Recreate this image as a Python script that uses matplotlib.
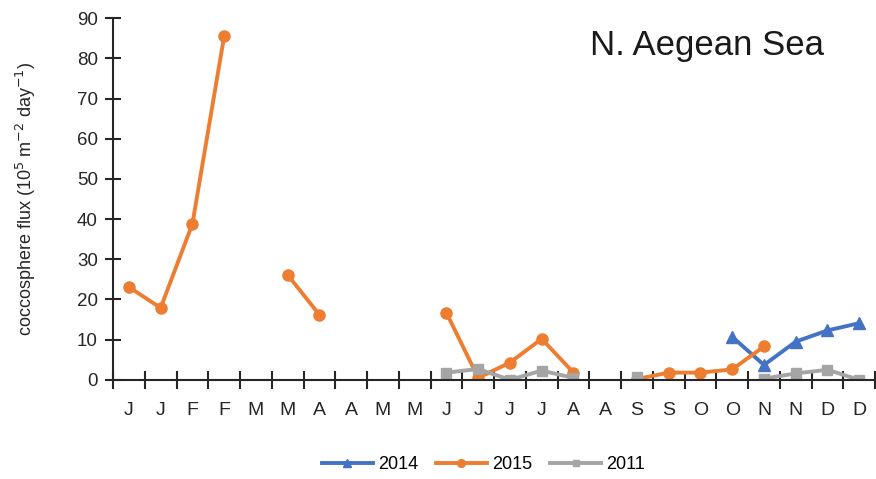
import numpy as np
import matplotlib
matplotlib.use("Agg")
import matplotlib.pyplot as plt

plt.rcParams['font.family'] = ['Liberation Sans', 'DejaVu Sans']

months = ["J", "J", "F", "F", "M", "M", "A", "A", "M", "M", "J", "J",
          "J", "J", "A", "A", "S", "S", "O", "O", "N", "N", "D", "D"]
nan = np.nan
y2014 = [nan]*19 + [10.7, 3.7, 9.5, 12.3, 14.1]
y2015 = [23.1, 17.9, 38.8, 85.5, nan, 26.1, 16.2, nan, nan, nan, 16.7, 0.5,
         4.3, 10.2, 1.8, nan, 0.2, 1.8, 1.8, 2.6, 8.3, nan, nan, nan]
y2011 = [nan]*10 + [1.8, 2.7, 0.0, 2.3, 0.5, nan, 0.8, nan, nan, nan, 0.3, 1.6, 2.5, 0.0]

x = np.arange(len(months))

fig = plt.figure(figsize=(8.76, 4.79), dpi=100)
ax = fig.add_axes([0.129, 0.207, 0.870, 0.755])

c14, c15, c11 = '#4472C4', '#ED7D31', '#A5A5A5'
ax.plot(x, y2014, color=c14, lw=2.8, marker='^', ms=8, label='2014')
ax.plot(x, y2015, color=c15, lw=2.8, marker='o', ms=8, label='2015')
ax.plot(x, y2011, color=c11, lw=2.8, marker='s', ms=7, label='2011')

ax.set_xlim(-0.5, len(months) - 0.5)
ax.set_ylim(0, 90)
ax.set_yticks(np.arange(0, 91, 10))
ax.set_xticks(x)
ax.set_xticklabels(months)
ax.set_xticks(np.arange(-0.5, len(months), 1.0), minor=True)
ax.tick_params(axis='x', which='major', length=0, labelsize=14, pad=16, colors='#262626')
ax.tick_params(axis='x', which='minor', direction='inout', length=13, width=1.5, color='#262626')
ax.tick_params(axis='y', direction='inout', length=12, width=1.5, labelsize=13.5, color='#262626', labelcolor='#262626', pad=5)

for s in ['top', 'right']:
    ax.spines[s].set_visible(False)
for s in ['left', 'bottom']:
    ax.spines[s].set_linewidth(1.5)
    ax.spines[s].set_color('#262626')

ax.set_ylabel('coccosphere flux (10$^{5}$ m$^{-2}$ day$^{-1}$)', fontsize=13, color='#262626', labelpad=28)
fig.text(0.807, 0.905, 'N. Aegean Sea', ha='center', va='center',
         fontsize=25, color='#1a1a1a')

fig.legend(loc='center', bbox_to_anchor=(0.552, 0.03), ncol=3, frameon=False,
           fontsize=13, handlelength=2.8, handletextpad=0.3, columnspacing=1.0, markerscale=0.7)

fig.savefig('out.png', dpi=100, facecolor='white')
